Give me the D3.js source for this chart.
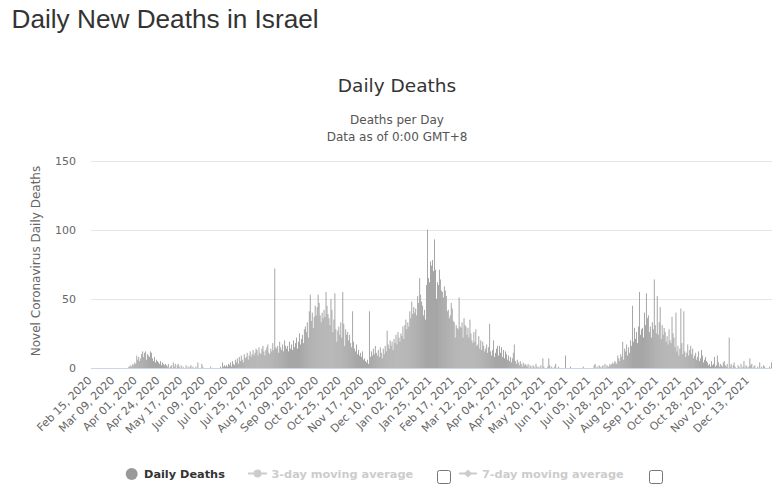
<!DOCTYPE html>
<html><head><meta charset="utf-8">
<script src="https://cdn.jsdelivr.net/npm/d3@7"></script>
<style>
body{margin:0;background:#fff}
svg{display:block}
</style></head><body>
<svg id="c" width="784" height="490"></svg>
<script>
const startDate = "2020-02-15";
const feb2020 = [0,0,0,0,0,0,0,0,0,0,0,0,0,0,0];
const mar2020 = [0,0,0,0,0,0,0,0,0,0,0,0,0,0,0,0,0,0,0,0,0,0,0,1,1,2,1,3,2,4,3];
const apr2020 = [9,6,8,5,7,10,12,8,11,12,6,10,9,8,12,11,7,5,8,4,6,5,4,3,5,2,4,3,2,3];
const may2020 = [2,1,3,0,1,2,0,4,1,3,0,2,3,1,0,2,0,1,0,0,2,0,1,0,1,2,0,1,0,0,1];
const jun2020 = [0,4,0,0,0,3,1,0,0,0,0,0,0,0,1,0,0,0,0,0,0,0,0,0,1,0,4,1,2,1];
const jul2020 = [2,1,3,2,4,1,5,3,2,6,4,7,3,8,5,9,6,4,10,7,8,11,6,9,12,8,10,13,9,11,14];
const aug2020 = [13,9,15,11,10,14,16,12,9,13,15,17,11,10,14,12,18,13,72,15,14,16,11,19,15,13,17,12,20,16,14];
const sep2020 = [16,12,19,14,17,13,20,15,18,22,14,19,25,17,21,24,18,28,30,26,33,22,41,53,34,40,29,37,45,38];
const oct2020 = [44,53,47,38,33,40,36,42,37,55,45,39,36,31,50,42,26,35,54,28,19,27,30,24,33,22,55,32,16,28,24];
const nov2020 = [26,20,24,18,15,41,19,14,12,17,10,13,9,11,8,12,6,7,5,4,6,3,41,8,12,9,14,10,16,11];
const dec2020 = [9,13,8,15,11,7,14,10,16,12,27,17,14,20,16,19,13,21,18,24,17,26,22,19,25,23,30,21,31,35,28];
const jan2021 = [33,30,41,36,48,39,44,40,43,38,52,47,65,53,48,45,38,42,35,60,100,65,62,77,74,78,70,93,71,50,62];
const feb2021 = [60,71,64,56,55,51,59,56,52,41,42,36,38,47,43,34,33,22,31,29,28,51,30,29,33,22,36,31];
const mar2021 = [30,24,29,22,35,25,20,18,26,19,28,16,17,23,14,20,13,19,16,12,14,17,11,15,32,12,9,13,20,8,11];
const apr2021 = [14,16,9,16,11,15,8,13,7,12,10,6,9,5,8,4,7,11,17,5,3,6,4,2,5,3,1,4,2,3];
const may2021 = [2,1,3,0,2,1,0,2,1,0,3,1,0,1,0,2,0,7,1,0,0,0,1,7,2,0,1,0,0,1,3];
const jun2021 = [0,0,1,0,0,0,0,0,0,9,0,0,0,0,1,0,0,0,0,0,0,0,0,0,0,0,0,1,0,0];
const jul2021 = [0,0,0,0,0,0,0,0,2,3,0,1,0,2,1,0,1,2,0,3,0,2,1,1,3,2,3,4,3,5,4];
const aug2021 = [3,9,7,5,10,8,19,6,14,12,17,9,15,11,20,16,45,19,29,21,26,18,30,55,24,28,29,22,40,31,54];
const sep2021 = [36,38,26,30,22,33,28,64,31,25,52,24,33,44,21,31,24,29,26,19,23,17,28,20,18,37,25,22,15,40];
const oct2021 = [12,16,9,14,43,18,10,41,12,8,11,17,9,13,16,10,14,7,9,11,6,8,12,5,7,13,9,4,6,8,5];
const nov2021 = [4,2,3,1,5,2,3,8,1,2,9,4,1,3,2,1,4,5,2,1,3,0,22,1,3,0,2,4,1,0];
const dec2021 = [0,2,1,0,3,0,1,5,0,2,1,0,1,7,2,3,0,1,2,0,0,1,0,4,0,1,0,2,1,0,0];
const jan2022 = [0,0,1,0,4];

const tickLabels = ["Feb 15, 2020","Mar 09, 2020","Apr 01, 2020","Apr 24, 2020","May 17, 2020","Jun 09, 2020",
  "Jul 02, 2020","Jul 25, 2020","Aug 17, 2020","Sep 09, 2020","Oct 02, 2020","Oct 25, 2020","Nov 17, 2020",
  "Dec 10, 2020","Jan 02, 2021","Jan 25, 2021","Feb 17, 2021","Mar 12, 2021","Apr 04, 2021","Apr 27, 2021",
  "May 20, 2021","Jun 12, 2021","Jul 05, 2021","Jul 28, 2021","Aug 20, 2021","Sep 12, 2021","Oct 05, 2021",
  "Oct 28, 2021","Nov 20, 2021","Dec 13, 2021"];
const yTicks = [0, 50, 100, 150];

const deaths = [].concat(feb2020, mar2020, apr2020, may2020, jun2020, jul2020, aug2020, sep2020, oct2020,
  nov2020, dec2020, jan2021, feb2021, mar2021, apr2021, may2021, jun2021, jul2021, aug2021, sep2021,
  oct2021, nov2021, dec2021, jan2022);

const parse = d3.utcParse("%Y-%m-%d");
const fmt = d3.utcFormat("%b %d, %Y");
const s0 = parse(startDate);
const categories = d3.utcDay.range(s0, d3.utcDay.offset(s0, deaths.length)).map(fmt);
const data = categories.map((c, i) => ({c, v: deaths[i]}));

const svg = d3.select("#c");
const L = 91, R = 772, T = 160.5, B = 368;
const x = d3.scaleBand().domain(categories).range([L, R]).paddingInner(0.12);
const y = d3.scaleLinear().domain([0, 150]).range([B, T]);

// Titles
svg.append("text").attr("x", 11.5).attr("y", 28)
  .style("font-family", "'Liberation Sans', Arial, sans-serif").style("font-size", "26.2px")
  .attr("fill", "#333").text("Daily New Deaths in Israel");
svg.append("text").attr("x", 397).attr("y", 92).attr("text-anchor", "middle")
  .style("font-family", "'DejaVu Sans', sans-serif").style("font-size", "18.5px")
  .attr("fill", "#333").text("Daily Deaths");
svg.append("text").attr("x", 397).attr("y", 124).attr("text-anchor", "middle")
  .style("font-family", "'DejaVu Sans', sans-serif").style("font-size", "12px")
  .attr("fill", "#555").text("Deaths per Day");
svg.append("text").attr("x", 397).attr("y", 140.5).attr("text-anchor", "middle")
  .style("font-family", "'DejaVu Sans', sans-serif").style("font-size", "12px")
  .attr("fill", "#555").text("Data as of 0:00 GMT+8");

// Grid
const yAxis = d3.axisLeft(y).tickValues(yTicks).tickSize(-(R - L)).tickPadding(15).tickFormat(d3.format("d"));
const gy = svg.append("g").attr("transform", `translate(${L},0)`).call(yAxis);
gy.select(".domain").remove();
gy.selectAll(".tick line").attr("stroke", "#e6e6e6").attr("shape-rendering", "crispEdges");
gy.selectAll(".tick text").attr("fill", "#666").attr("dy", "0.36em")
  .style("font-family", "'DejaVu Sans', sans-serif").style("font-size", "11px");

// Y title
svg.append("text").attr("transform", "translate(39.5,261) rotate(-90)").attr("text-anchor", "middle")
  .style("font-family", "'DejaVu Sans', sans-serif").style("font-size", "12px")
  .attr("fill", "#666").text("Novel Coronavirus Daily Deaths");

// Bars
svg.append("g").selectAll("rect").data(data).join("rect")
  .attr("x", d => x(d.c)).attr("width", x.bandwidth())
  .attr("y", d => y(d.v)).attr("height", d => B - y(d.v))
  .attr("fill", "#999");

// X axis line
svg.append("line").attr("x1", L).attr("x2", R).attr("y1", B + 0.5).attr("y2", B + 0.5)
  .attr("stroke", "#ccd6eb").attr("stroke-width", 1);

// X tick labels
svg.append("g").selectAll("text").data(tickLabels).join("text")
  .attr("transform", d => `translate(${x(d) + x.bandwidth() / 2 + 1},381) rotate(-45)`)
  .attr("text-anchor", "end")
  .style("font-family", "'DejaVu Sans', sans-serif").style("font-size", "11px")
  .attr("fill", "#666").text(d => d);

// Legend
const lg = svg.append("g").style("font-family", "'DejaVu Sans', sans-serif")
  .style("font-size", "11.3px").style("font-weight", "bold");
lg.append("circle").attr("cx", 131.7).attr("cy", 474).attr("r", 6).attr("fill", "#999");
lg.append("text").attr("x", 144).attr("y", 478).attr("fill", "#333").text("Daily Deaths");
lg.append("line").attr("x1", 248).attr("x2", 267).attr("y1", 473.5).attr("y2", 473.5)
  .attr("stroke", "#ccc").attr("stroke-width", 2);
lg.append("circle").attr("cx", 257.5).attr("cy", 473.5).attr("r", 4).attr("fill", "#ccc");
lg.append("text").attr("x", 271.5).attr("y", 478).attr("fill", "#ccc").text("3-day moving average");
lg.append("rect").attr("x", 437.5).attr("y", 470.5).attr("width", 13).attr("height", 13).attr("rx", 2)
  .attr("fill", "#fff").attr("stroke", "#767676");
lg.append("line").attr("x1", 459).attr("x2", 477).attr("y1", 473.5).attr("y2", 473.5)
  .attr("stroke", "#ccc").attr("stroke-width", 2);
lg.append("path").attr("d", "M468,469.5L472,473.5L468,477.5L464,473.5Z").attr("fill", "#ccc");
lg.append("text").attr("x", 482).attr("y", 478).attr("fill", "#ccc").text("7-day moving average");
lg.append("rect").attr("x", 649.5).attr("y", 470.5).attr("width", 13).attr("height", 13).attr("rx", 2)
  .attr("fill", "#fff").attr("stroke", "#767676");
</script>
</body></html>
